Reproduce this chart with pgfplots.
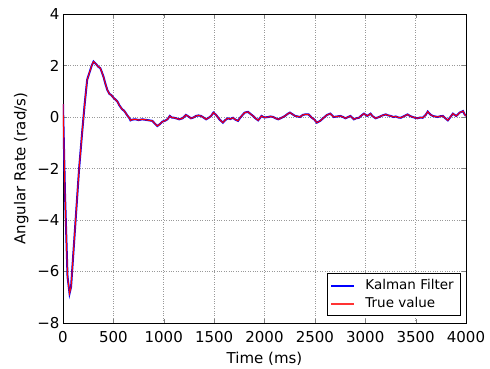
\documentclass[border=0pt]{standalone}
\usepackage{pgfplots}
\pgfplotsset{compat=1.18}
\usepackage{pgfplotstable}
\usepackage{fontspec}
\setmainfont{DejaVu Sans}
\pgfplotstableread{
t y
0 0.5
20 -3.0
45 -6.2
65 -6.85
80 -6.6
120 -4.3
160 -2.0
190 -0.6
215 0.5
240 1.45
265 1.75
285 2.0
303 2.15
330 2.05
350 1.95
370 1.9
385 1.75
403 1.55
420 1.3
440 1.05
460 0.9
480 0.85
500 0.75
520 0.68
540 0.6
560 0.45
587 0.3
605 0.25
620 0.17
640 0.05
660 -0.05
670 -0.13
690 -0.1
720 -0.09
750 -0.12
787 -0.09
820 -0.11
853 -0.13
887 -0.15
910 -0.25
937 -0.35
960 -0.28
987 -0.18
1010 -0.15
1037 -0.09
1060 0.04
1080 -0.02
1103 -0.03
1130 -0.06
1153 -0.09
1187 -0.05
1220 0.08
1245 0.02
1270 -0.05
1295 -0.02
1320 0.04
1345 0.06
1370 0.04
1395 -0.02
1420 -0.09
1450 -0.02
1470 0.04
1493 0.17
1520 0.08
1550 -0.08
1587 -0.22
1610 -0.12
1637 -0.05
1660 -0.08
1687 -0.03
1710 -0.1
1737 -0.15
1760 -0.02
1787 0.1
1803 0.17
1837 0.2
1860 0.12
1887 0.04
1910 -0.05
1937 -0.13
1955 -0.04
1970 0.04
2000 -0.02
2037 0.0
2060 0.02
2087 0.0
2110 -0.05
2137 -0.09
2170 -0.03
2203 0.04
2230 0.12
2253 0.17
2280 0.1
2303 0.04
2330 0.02
2353 0.0
2380 0.08
2403 0.1
2437 0.1
2470 -0.03
2495 -0.1
2520 -0.22
2553 -0.15
2590 -0.02
2620 0.08
2653 0.13
2687 0.0
2720 0.02
2753 0.04
2780 0.0
2803 -0.05
2830 0.0
2853 0.04
2887 -0.09
2910 -0.05
2937 -0.03
2960 0.05
2987 0.13
3020 0.04
3053 0.13
3070 0.04
3103 -0.05
3137 0.0
3170 0.06
3203 0.1
3230 0.06
3253 0.04
3280 0.0
3303 0.02
3330 -0.02
3353 -0.03
3390 0.04
3420 0.1
3445 0.04
3470 0.0
3495 -0.03
3520 -0.05
3545 -0.02
3570 -0.03
3600 0.08
3620 0.21
3645 0.1
3670 0.04
3695 0.02
3720 0.0
3745 0.03
3770 0.04
3795 -0.05
3820 -0.13
3845 0.0
3870 0.13
3887 0.08
3903 0.04
3920 0.1
3937 0.17
3955 0.2
3970 0.23
3987 0.1
4000 0.04
}\datatable
\definecolor{mplred}{rgb}{1,0,0}
\definecolor{mplblue}{rgb}{0,0,1}
\begin{document}
\begin{tikzpicture}
\useasboundingbox (-63pt,-45pt) rectangle (427pt,323pt);
\begin{axis}[
  scale only axis,
  width=403pt, height=309pt,
  at={(0,0)}, anchor=south west,
  xmin=0, xmax=4000, ymin=-8, ymax=4,
  xtick={0,500,...,4000}, ytick={-8,-6,...,4},
  xticklabels={0,500,1000,1500,2000,2500,3000,3500,4000},
  yticklabels={−8,−6,−4,−2,0,2,4},
  tick align=inside,
  tick pos=both,
  major tick length=4pt,
  grid=major,
  grid style={dotted, gray!80, line width=0.6pt},
  axis line style={line width=0.8pt},
  ticklabel style={font=\fontsize{15}{18}\selectfont},
  xticklabel style={yshift=-5pt},
  xlabel={Time (ms)},
  ylabel={Angular Rate (rad/s)},
  label style={font=\fontsize{15}{18}\selectfont},
  xlabel style={yshift=-2pt},
  ylabel style={yshift=2pt},
  legend style={at={(0.985,0.025)}, anchor=south east, font=\fontsize{13.5}{16}\selectfont, row sep=2pt, inner sep=4pt, legend cell align=left},
]
\addplot[draw=mplblue, line width=2pt] table[x=t,y=y] {\datatable};
\addplot[draw=mplred, line width=1pt] table[x=t,y=y] {\datatable};
\addlegendimage{legend image code/.code={\fill[mplblue] (0pt,-0.6pt) rectangle (22pt,0.6pt);}}
\addlegendimage{legend image code/.code={\fill[mplred!80] (0pt,-0.5pt) rectangle (22pt,0.5pt);}}
\legend{,,\;\, Kalman Filter,\;\, True value}
\end{axis}
\end{tikzpicture}
\end{document}
